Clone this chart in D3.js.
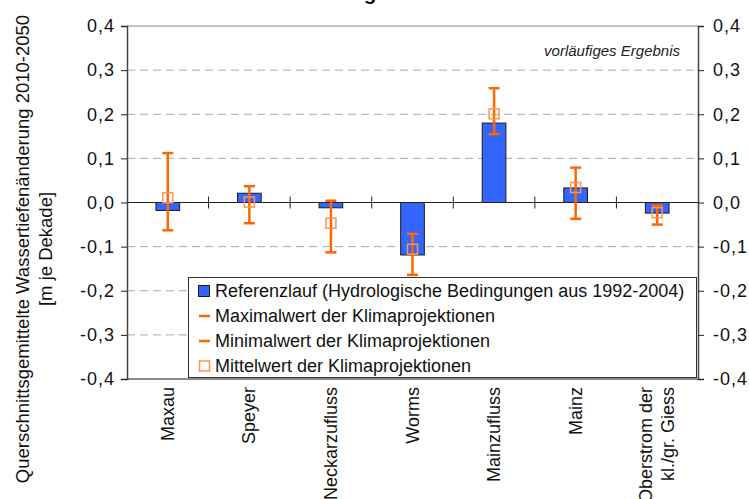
<!DOCTYPE html>
<html>
<head>
<meta charset="utf-8">
<script src="https://cdn.jsdelivr.net/npm/d3@7"></script>
<style>
  html, body { margin: 0; padding: 0; background: #fff; }
  svg { display: block; font-family: "Liberation Sans", Arial, sans-serif; }
</style>
</head>
<body>
<svg id="chart" width="749" height="499"></svg>
<script>
// Wassertiefenänderung je Pegel / Abschnitt
const categories = ["Maxau", "Speyer", "Neckarzufluss", "Worms", "Mainzufluss", "Mainz", "Oberstrom der\nkl./gr. Giess"];
const referenz = [-0.018, 0.021, -0.012, -0.119, 0.180, 0.033, -0.024];
const maxWert = [0.112, 0.037, 0.004, -0.071, 0.259, 0.079, -0.007];
const minWert = [-0.063, -0.047, -0.113, -0.164, 0.155, -0.037, -0.050];
const mittelWert = [0.011, 0.001, -0.047, -0.106, 0.201, 0.034, -0.023];
const yTicks = [-0.4, -0.3, -0.2, -0.1, 0, 0.1, 0.2, 0.3, 0.4];
const legendLabels = [
  "Referenzlauf (Hydrologische Bedingungen aus 1992-2004)",
  "Maximalwert der Klimaprojektionen",
  "Minimalwert der Klimaprojektionen",
  "Mittelwert der Klimaprojektionen"
];

const svg = d3.select("#chart");
const L = 127, R = 698, T = 26, B = 379;
const blue = "#3366ff", orange = "#ff6600", orangeLight = "#ff9450";
const fmt = v => d3.format(".1f")(v).replace(".", ",").replace("−", "-");

const x = d3.scaleBand().domain(categories).range([L, R]).padding(0);
const y = d3.scaleLinear().domain([-0.4, 0.4]).range([B, T]);
const barW = x.bandwidth() * 0.29;

// title (only the descender is inside the picture)
svg.append("text").attr("x", 370).attr("y", 0).attr("text-anchor", "middle")
  .attr("font-size", 20).attr("font-weight", "bold").text("g");

// gridlines
svg.append("g").selectAll("line").data(yTicks.filter(v => v !== 0 && Math.abs(v) < 0.35)).join("line")
  .attr("x1", L).attr("x2", R).attr("y1", d => y(d)).attr("y2", d => y(d))
  .attr("stroke", "#a8a8a8").attr("stroke-width", 1).attr("stroke-dasharray", "8,5");
svg.append("line").attr("x1", L).attr("x2", R).attr("y1", y(0.4)).attr("y2", y(0.4))
  .attr("stroke", "#888").attr("stroke-width", 1);
svg.append("line").attr("x1", L).attr("x2", R).attr("y1", y(-0.4)).attr("y2", y(-0.4))
  .attr("stroke", "#666").attr("stroke-width", 1.5);

// axes
const left = svg.append("g").attr("transform", `translate(${L},0)`)
  .call(d3.axisLeft(y).tickValues(yTicks).tickSize(6).tickPadding(6).tickFormat(fmt));
const right = svg.append("g").attr("transform", `translate(${R},0)`)
  .call(d3.axisRight(y).tickValues(yTicks).tickSize(6).tickPadding(9).tickFormat(fmt));
[left, right].forEach(g => {
  g.select(".domain").attr("stroke", "#444").attr("stroke-width", 1.5);
  g.selectAll(".tick line").attr("stroke", "#222");
  g.selectAll(".tick text").attr("font-size", 18).attr("fill", "#111")
    .attr("letter-spacing", 1)
    .attr("font-family", "Liberation Sans, Arial, sans-serif");
});

// bars
svg.append("g").selectAll("rect").data(categories).join("rect")
  .attr("x", d => x(d) + x.bandwidth() / 2 - barW / 2)
  .attr("width", barW)
  .attr("y", (d, i) => y(Math.max(0, referenz[i])))
  .attr("height", (d, i) => Math.abs(y(referenz[i]) - y(0)))
  .attr("fill", blue).attr("stroke", "#1a1a1a").attr("stroke-width", 1);

// zero line and category ticks
svg.append("line").attr("x1", L).attr("x2", R).attr("y1", y(0)).attr("y2", y(0))
  .attr("stroke", "#222").attr("stroke-width", 1);
svg.append("g").selectAll("line").data(categories.slice(1)).join("line")
  .attr("x1", d => x(d)).attr("x2", d => x(d))
  .attr("y1", y(0) - 6).attr("y2", y(0) + 6)
  .attr("stroke", "#222").attr("stroke-width", 1);

// error bars
const eb = svg.append("g").attr("stroke", orange).attr("stroke-width", 2.5).attr("fill", "none");
categories.forEach((c, i) => {
  const cx = x(c) + x.bandwidth() / 2;
  eb.append("line").attr("x1", cx).attr("x2", cx).attr("y1", y(maxWert[i])).attr("y2", y(minWert[i]));
  eb.append("line").attr("x1", cx - 5.5).attr("x2", cx + 5.5).attr("y1", y(maxWert[i])).attr("y2", y(maxWert[i]));
  eb.append("line").attr("x1", cx - 5.5).attr("x2", cx + 5.5).attr("y1", y(minWert[i])).attr("y2", y(minWert[i]));
});
svg.append("g").selectAll("rect").data(categories).join("rect")
  .attr("x", d => x(d) + x.bandwidth() / 2 - 5)
  .attr("y", (d, i) => y(mittelWert[i]) - 5)
  .attr("width", 10).attr("height", 10)
  .attr("fill", "none").attr("stroke", orangeLight).attr("stroke-width", 1.5);

// category labels
svg.append("g").selectAll("text").data(categories).join("text")
  .attr("transform", d => `translate(${x(d) + x.bandwidth() / 2},387) rotate(-90)`)
  .attr("text-anchor", "end").attr("font-size", 18).attr("fill", "#111")
  .each(function (d) {
    const lines = d.split("\n");
    d3.select(this).selectAll("tspan").data(lines).join("tspan")
      .attr("x", 0)
      .attr("dy", (l, j) => j === 0 ? (6 - (lines.length - 1) * 11) : 22)
      .text(l => l);
  });

// y axis title
svg.append("text").attr("transform", "translate(0,249) rotate(-90)")
  .attr("text-anchor", "middle").attr("font-size", 18.5).attr("fill", "#111")
  .selectAll("tspan").data(["Querschnittsgemittelte Wassertiefenänderung 2010-2050", "[m je Dekade]"]).join("tspan")
  .attr("x", 0).attr("y", (d, i) => 29 + i * 23).text(d => d);

// note
svg.append("text").attr("x", 680).attr("y", 56).attr("text-anchor", "end")
  .attr("font-size", 15).attr("font-style", "italic").attr("fill", "#222")
  .text("vorläufiges Ergebnis");

// legend
const lg = svg.append("g");
lg.append("rect").attr("x", 188.5).attr("y", 277.5).attr("width", 508).attr("height", 100)
  .attr("fill", "#fff").attr("stroke", "#333").attr("stroke-width", 1);
const rowY = i => 291 + i * 25;
lg.append("rect").attr("x", 198.5).attr("y", rowY(0) - 5.5).attr("width", 11).attr("height", 11)
  .attr("fill", blue).attr("stroke", "#1a1a1a");
[1, 2].forEach(i => lg.append("line").attr("x1", 199).attr("x2", 210).attr("y1", rowY(i)).attr("y2", rowY(i))
  .attr("stroke", orange).attr("stroke-width", 2.5));
lg.append("rect").attr("x", 199.5).attr("y", rowY(3) - 5).attr("width", 10).attr("height", 10)
  .attr("fill", "none").attr("stroke", orangeLight).attr("stroke-width", 1.5);
lg.selectAll("text.lt").data(legendLabels).join("text").attr("class", "lt")
  .attr("x", 215).attr("y", (d, i) => rowY(i) + 6)
  .attr("font-size", 18).attr("fill", "#111").text(d => d);
</script>
</body>
</html>
